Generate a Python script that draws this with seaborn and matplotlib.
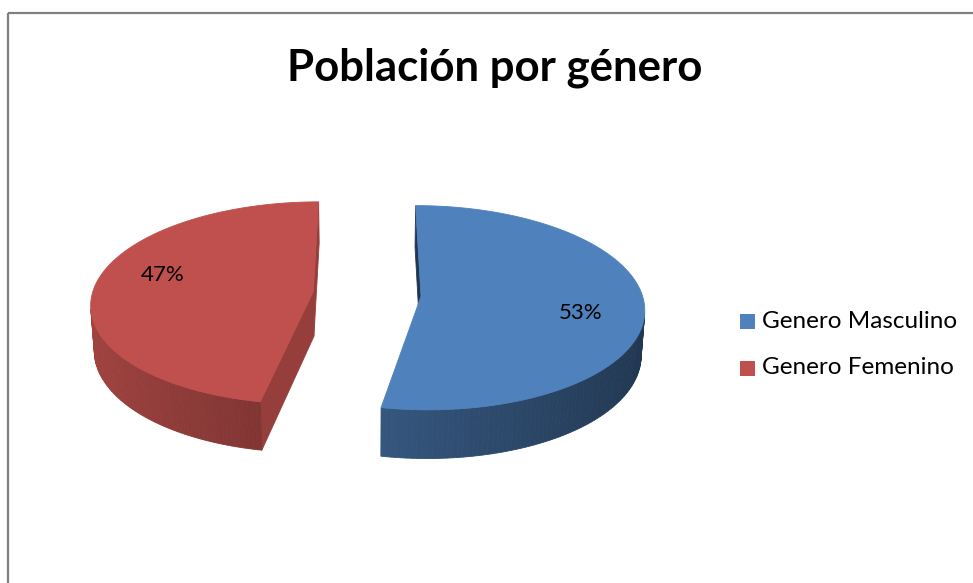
import numpy as np
import matplotlib
matplotlib.use("Agg")
import matplotlib.pyplot as plt
import matplotlib.colors as mcolors
from matplotlib.patches import Polygon, Rectangle
import seaborn as sns

# Datos del gráfico
categorias = ["Genero Masculino", "Genero Femenino"]
porcentajes = [53, 47]
colores = ["#4F81BD", "#C0504D"]
titulo = "Población por género"

sns.set_theme(style="white")
plt.rcParams["font.family"] = ["Lato", "DejaVu Sans"]

W, H = 973, 583
fig = plt.figure(figsize=(W / 100, H / 100), dpi=100)
ax = fig.add_axes([0, 0, 1, 1])
ax.set_xlim(0, W)
ax.set_ylim(H, 0)
ax.axis("off")

# borde del área del gráfico (recortado a la derecha y abajo)
ax.plot([8, W], [13, 13], color="#808080", lw=1.6, solid_capstyle="butt")
ax.plot([8, 8], [13, H], color="#808080", lw=1.6, solid_capstyle="butt")

# cámara para el pastel 3D
elev = np.radians(27)
D = 8.0
R_PX = 221
CX, CY = 367, 294
ALTO = 0.23
EXPLODE = 0.245
cam = np.array([0.0, -D * np.cos(elev), D * np.sin(elev)])


def proyectar(x, y, z):
    prof = y * np.cos(elev) - z * np.sin(elev)
    v = y * np.sin(elev) + z * np.cos(elev)
    s = D / (D + prof)
    return CX + R_PX * x * s, CY - R_PX * v * s, prof


def sombra(color, f):
    r, g, b = mcolors.to_rgb(color)
    return (r * f, g * f, b * f)


def cara(puntos3d, color, caras):
    xs, ys, ps = zip(*[proyectar(*p) for p in puntos3d])
    caras.append((np.mean(ps), list(zip(xs, ys)), color))


total = sum(porcentajes)
acum = 0
for cat, val, col in zip(categorias, porcentajes, colores):
    a0 = np.radians(90 - 360 * acum / total)
    a1 = np.radians(90 - 360 * (acum + val) / total)
    acum += val
    m = (a0 + a1) / 2
    ox, oy = EXPLODE * np.cos(m), EXPLODE * np.sin(m)
    t = np.linspace(a1, a0, 160)
    caras = []

    # pared exterior
    for i in range(len(t) - 1):
        ta, tb = t[i], t[i + 1]
        tm = (ta + tb) / 2
        medio = np.array([ox + np.cos(tm), oy + np.sin(tm), -ALTO / 2])
        normal = np.array([np.cos(tm), np.sin(tm), 0])
        if normal @ (cam - medio) <= 0:
            continue
        pts = [(ox + np.cos(ta), oy + np.sin(ta), 0), (ox + np.cos(tb), oy + np.sin(tb), 0),
               (ox + np.cos(tb), oy + np.sin(tb), -ALTO), (ox + np.cos(ta), oy + np.sin(ta), -ALTO)]
        cara(pts, sombra(col, 0.63 - 0.21 * np.cos(tm)), caras)

    # caras radiales
    for ang, nang in [(a0, a0 + np.pi / 2), (a1, a1 - np.pi / 2)]:
        normal = np.array([np.cos(nang), np.sin(nang), 0])
        medio = np.array([ox + 0.5 * np.cos(ang), oy + 0.5 * np.sin(ang), -ALTO / 2])
        if normal @ (cam - medio) <= 0:
            continue
        pts = [(ox, oy, 0), (ox + np.cos(ang), oy + np.sin(ang), 0),
               (ox + np.cos(ang), oy + np.sin(ang), -ALTO), (ox, oy, -ALTO)]
        cara(pts, sombra(col, 0.6 + 0.18 * np.cos(nang)), caras)

    for _, pts, c in sorted(caras, key=lambda c: -c[0]):
        ax.add_patch(Polygon(pts, closed=True, facecolor=c, edgecolor=c, lw=0.6))

    # cara superior
    sup = [(ox, oy, 0)] + [(ox + np.cos(a), oy + np.sin(a), 0) for a in t]
    xs, ys, _ = zip(*[proyectar(*p) for p in sup])
    ax.add_patch(Polygon(list(zip(xs, ys)), closed=True, facecolor=col, edgecolor=col, lw=0.6))

    # etiqueta de porcentaje (Excel la gira un poco en sentido horario)
    ml = m - np.radians(8)
    lx, ly, _ = proyectar(ox + 0.72 * np.cos(ml), oy + 0.72 * np.sin(ml), 0)
    ax.text(lx, ly, f"{val}%", ha="center", va="center", fontsize=16, color="black")

# título
ax.text(495, 80, titulo, ha="center", va="baseline", fontsize=31.5, fontweight="bold", color="black")

# leyenda
for i, (cat, col) in enumerate(zip(categorias, colores)):
    yc = 321 + 47 * i
    ax.add_patch(Rectangle((740, yc - 7.5), 15, 15, facecolor=col, edgecolor="none"))
    ax.text(762, yc, cat, ha="left", va="center", fontsize=17.5, color="black")

fig.savefig("out.png", dpi=100)
